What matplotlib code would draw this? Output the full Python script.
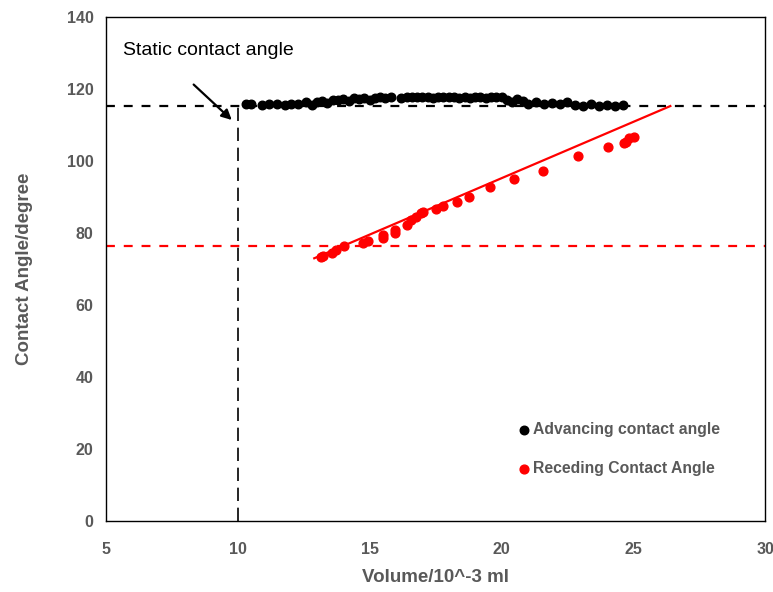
import matplotlib
matplotlib.use("Agg")
import matplotlib.pyplot as plt

plt.rcParams['font.family'] = ['Liberation Sans', 'DejaVu Sans']

# Advancing contact angle measurements
adv_volume = [10.3, 10.5, 10.9, 11.2, 11.5, 11.8, 12.0, 12.3, 12.6, 12.8, 13.0, 13.2,
              13.4, 13.6, 13.8, 14.0, 14.2, 14.4, 14.6, 14.8, 15.0, 15.2, 15.4, 15.6,
              15.8, 16.2, 16.4, 16.6, 16.8, 17.0, 17.2, 17.4, 17.6, 17.8, 18.0, 18.2,
              18.4, 18.6, 18.8, 19.0, 19.2, 19.4, 19.6, 19.8, 20.0, 20.2, 20.4, 20.6,
              20.8, 21.0, 21.3, 21.6, 21.9, 22.2, 22.5, 22.8, 23.1, 23.4, 23.7, 24.0,
              24.3, 24.6]
adv_angle = [116.0, 115.8, 115.5, 116.0, 115.8, 115.6, 116.0, 115.8, 116.3, 115.6, 116.5, 116.8,
             116.2, 116.9, 117.0, 117.3, 116.8, 117.5, 117.2, 117.4, 117.0, 117.6, 117.8, 117.5,
             117.8, 117.6, 117.8, 117.9, 117.7, 117.8, 117.9, 117.6, 117.9, 117.8, 117.7, 117.9,
             117.6, 117.8, 117.5, 117.9, 117.7, 117.6, 117.9, 117.8, 117.7, 117.0, 116.5, 117.2,
             116.8, 116.0, 116.4, 115.8, 116.2, 115.9, 116.3, 115.7, 115.4, 115.8, 115.2, 115.5,
             115.4, 115.5]

# Receding contact angle measurements
rec_volume = [13.17, 13.25, 13.59, 13.71, 14.01, 14.73, 14.92, 15.49, 15.49, 15.95, 15.95,
              16.41, 16.56, 16.75, 16.94, 17.02, 17.51, 17.78, 18.31, 18.76, 19.56, 20.48,
              21.58, 22.91, 24.05, 24.66, 24.73, 24.85, 25.04]
rec_angle = [73.3, 73.6, 74.4, 75.3, 76.4, 77.2, 77.8, 78.6, 79.4, 80.0, 80.8,
             82.2, 83.6, 84.4, 85.6, 85.8, 86.7, 87.5, 88.6, 90.0, 92.8, 95.0,
             97.2, 101.4, 103.9, 105.0, 105.3, 106.4, 106.7]

# Linear trend of the receding angle
trend_volume = [12.9, 26.4]
trend_angle = [73.0, 115.3]

static_angle = 115.3
static_volume = 10.0
receding_level = 76.5

x_ticks = [5, 10, 15, 20, 25, 30]
y_ticks = [0, 20, 40, 60, 80, 100, 120, 140]

fig = plt.figure(figsize=(7.73, 5.92), dpi=100)
ax = fig.add_axes([0.137, 0.120, 0.853, 0.851])

gray = '#595959'

ax.axhline(static_angle, color='black', lw=1.6, ls=(0, (4, 4)), zorder=1)
ax.axhline(receding_level, color='red', lw=1.6, ls=(0, (4, 4)), zorder=1)
ax.plot([static_volume, static_volume], [0, static_angle], color='black', lw=1.2,
        ls=(0, (8, 4)), zorder=1)

ax.plot(trend_volume, trend_angle, color='red', lw=1.6, zorder=2)

ax.scatter(adv_volume, adv_angle, s=38, color='black', zorder=3,
           label='Advancing contact angle')
ax.scatter(rec_volume, rec_angle, s=40, color='red', zorder=3,
           label='Receding Contact Angle')

ax.annotate('Static contact angle', xy=(9.8, 111.3), xytext=(5.65, 130.8),
            fontsize=14, color='black', ha='left', va='center')
ax.annotate('', xy=(9.85, 110.9), xytext=(8.25, 121.8),
            arrowprops=dict(arrowstyle='-|>', color='black', lw=1.6,
                            mutation_scale=15))

ax.set_xlim(5, 30)
ax.set_ylim(0, 140)
ax.set_xticks(x_ticks)
ax.set_yticks(y_ticks)
ax.tick_params(length=0, labelsize=11.5, colors=gray)
ax.tick_params(axis='x', pad=15)
ax.tick_params(axis='y', pad=9)
for lab in ax.get_xticklabels() + ax.get_yticklabels():
    lab.set_fontweight('bold')
for sp in ax.spines.values():
    sp.set_color('black')
    sp.set_linewidth(1.0)

ax.set_xlabel('Volume/10^-3 ml', fontsize=13.5, fontweight='bold', color=gray, labelpad=9)
ax.set_ylabel('Contact Angle/degree', fontsize=13.5, fontweight='bold', color=gray, labelpad=24)

leg = ax.legend(loc='upper left', bbox_to_anchor=(0.598, 0.224), frameon=False,
                handletextpad=0.0, labelspacing=1.5, handlelength=1.2, markerscale=1.0,
                prop=dict(size=11.3, weight='bold'))
for t in leg.get_texts():
    t.set_color(gray)

fig.savefig('out.png', dpi=100)
